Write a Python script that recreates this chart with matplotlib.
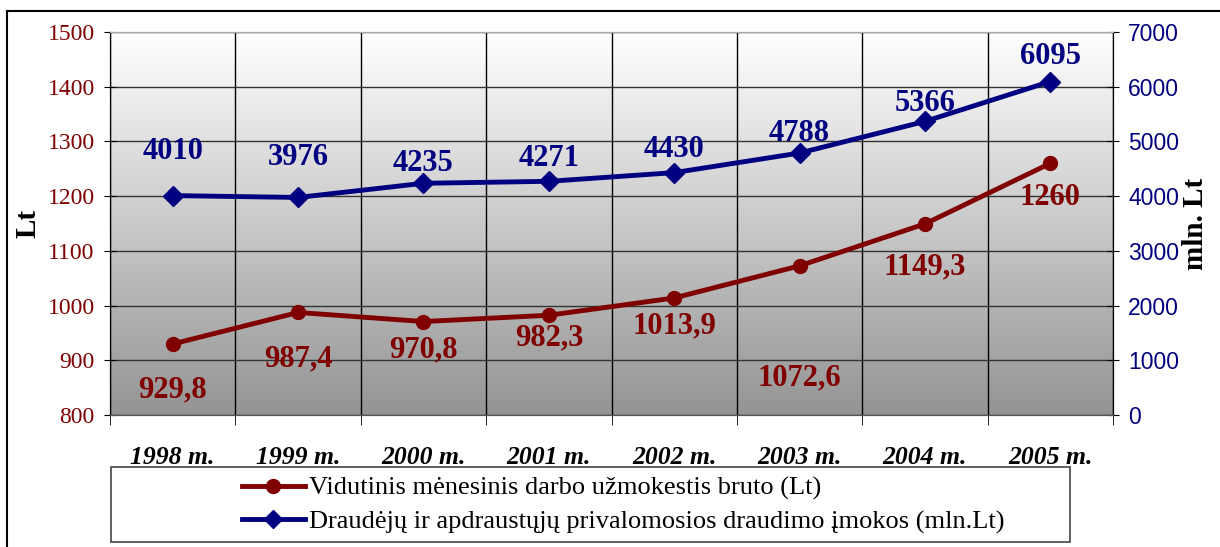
import numpy as np
import matplotlib.pyplot as plt
from matplotlib.colors import LinearSegmentedColormap
from matplotlib.patches import Rectangle
from matplotlib.lines import Line2D

years = ['1998 m.', '1999 m.', '2000 m.', '2001 m.', '2002 m.', '2003 m.', '2004 m.', '2005 m.']
wage = [929.8, 987.4, 970.8, 982.3, 1013.9, 1072.6, 1149.3, 1260]
wage_labels = ['929,8', '987,4', '970,8', '982,3', '1013,9', '1072,6', '1149,3', '1260']
contrib = [4010, 3976, 4235, 4271, 4430, 4788, 5366, 6095]

wage_name = 'Vidutinis mėnesinis darbo užmokestis bruto (Lt)'
contrib_name = 'Draudėjų ir apdraustųjų privalomosios draudimo įmokos (mln.Lt)'

# label offsets in pixels (placement only)
wage_dy = [-46, -46, -28, -23, -28, -112, -43, -34]
contrib_dy = [44, 40, 20, 23, 23, 20, 18, 25]

RED = '#800000'
BLUE = '#000080'
serif = ['Liberation Serif', 'DejaVu Serif']
sans = ['Liberation Sans', 'DejaVu Sans']

fig = plt.figure(figsize=(12.2, 5.47), dpi=100)
ax = fig.add_axes([110 / 1220, 1 - 415 / 547, 1003 / 1220, 383 / 547])
ax2 = ax.twinx()

x = np.arange(len(years))
ax.set_xlim(-0.5, len(years) - 0.5)

# gradient background, white at top to grey at bottom
grad = np.linspace(0, 1, 256).reshape(-1, 1)
cmap = LinearSegmentedColormap.from_list('g', ['#ffffff', '#949494'])
ax.imshow(grad, cmap=cmap, extent=[-0.5, len(years) - 0.5, 800, 1500], aspect='auto', zorder=0)
ax.set_ylim(800, 1500)
ax2.set_ylim(0, 7000)

ax.set_yticks(np.arange(800, 1501, 100))
ax2.set_yticks(np.arange(0, 7001, 1000))
ax.set_xticks(x)
ax.set_xticks(np.arange(-0.5, len(years), 1), minor=True)
ax.set_xticklabels(years, fontsize=18.5, fontweight='bold', style='italic', family=serif)
ax.tick_params(axis='x', which='major', length=0, pad=22)
ax.tick_params(axis='x', which='minor', length=7, direction='out', color='black')
ax.tick_params(axis='y', length=8, direction='inout', labelsize=17, labelcolor=RED, pad=7)
ax2.tick_params(axis='y', length=8, direction='inout', labelsize=16.5, labelcolor=BLUE, pad=7)
for t in ax.get_yticklabels():
    t.set_family(serif)
for t in ax2.get_yticklabels():
    t.set_family(sans)

ax.grid(True, axis='y', color='#333333', linewidth=1)
ax.grid(True, axis='x', which='minor', color='black', linewidth=1)
ax.set_axisbelow(True)
for a in (ax, ax2):
    a.spines['top'].set_color('#aaaaaa')
    a.spines['bottom'].set_color('#555555')

ax.set_ylabel('Lt', fontsize=21, fontweight='bold', family=serif, labelpad=4)
ax2.set_ylabel('mln. Lt', fontsize=21, fontweight='bold', family=serif, labelpad=2)

ax.plot(x, wage, color=RED, lw=3.5, marker='o', ms=10, zorder=3, label=wage_name)
ax2.plot(x, contrib, color=BLUE, lw=3.5, marker='D', ms=10, zorder=3, label=contrib_name)

for xi, v, s, d in zip(x, wage, wage_labels, wage_dy):
    ax.annotate(s, (xi, v), xytext=(0, d * 0.72), textcoords='offset points', ha='center', va='center',
                fontsize=22, fontweight='bold', color=RED, family=serif)
for xi, v, d in zip(x, contrib, contrib_dy):
    ax2.annotate(str(v), (xi, v), xytext=(0, d * 0.72), textcoords='offset points', ha='center', va='center',
                 fontsize=22, fontweight='bold', color=BLUE, family=serif)

# legend box
fig.add_artist(Rectangle((111 / 1220, 1 - 542 / 547), 959 / 1220, 75 / 547, transform=fig.transFigure,
                         fill=False, edgecolor='#444444', lw=1.2))
h1 = Line2D([], [], color=RED, lw=3.5, marker='o', ms=10)
h2 = Line2D([], [], color=BLUE, lw=3.5, marker='D', ms=9)
fig.legend([h1, h2], [wage_name, contrib_name], loc='center left', bbox_to_anchor=(218 / 1220, 1 - 505 / 547),
           frameon=False, prop={'family': serif, 'size': 19}, handlelength=2.4, handletextpad=0.15,
           labelspacing=0.35)

# outer frame
fig.add_artist(Line2D([7 / 1220, 7 / 1220], [0, 1 - 11 / 547], transform=fig.transFigure, color='black', lw=1.5))
fig.add_artist(Line2D([7 / 1220, 1], [1 - 11 / 547, 1 - 11 / 547], transform=fig.transFigure, color='black', lw=1.5))

fig.savefig('out.png', dpi=100)
